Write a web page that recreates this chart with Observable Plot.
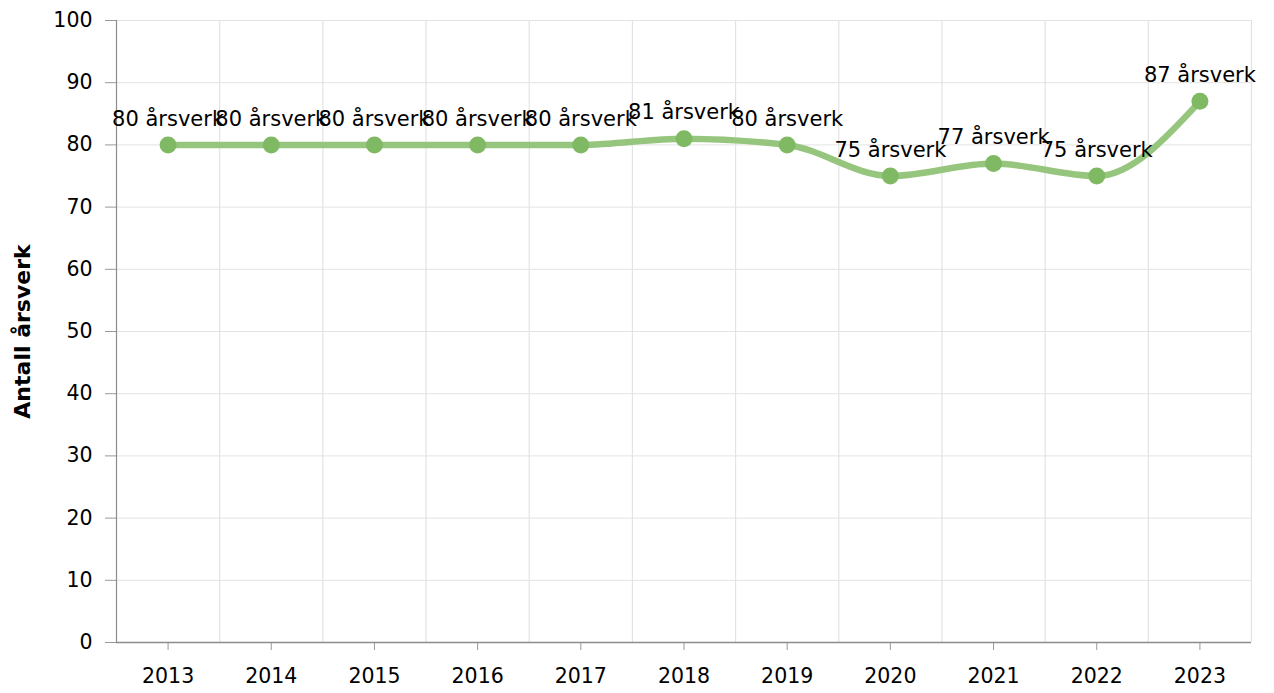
<!DOCTYPE html>
<html>
<head>
<meta charset="utf-8">
<script src="https://cdn.jsdelivr.net/npm/d3@7"></script>
<script src="https://cdn.jsdelivr.net/npm/@observablehq/plot@0.6"></script>
<style>
  html, body { margin: 0; padding: 0; background: #fff; }
</style>
</head>
<body>
<div id="chart"></div>
<script>
const years = [2013, 2014, 2015, 2016, 2017, 2018, 2019, 2020, 2021, 2022, 2023];
const values = [80, 80, 80, 80, 80, 81, 80, 75, 77, 75, 87];
const yTicks = [0, 10, 20, 30, 40, 50, 60, 70, 80, 90, 100];
const unit = "årsverk";
const yTitle = "Antall årsverk";

const data = years.map((year, i) => ({ year, value: values[i], label: `${values[i]} ${unit}` }));
const boundaries = years.map(y => y - 0.5).concat([years[years.length - 1] + 0.5]);
const xDomain = [boundaries[0], boundaries[boundaries.length - 1]];

const chart = Plot.plot({
  width: 1274,
  height: 693,
  marginLeft: 116,
  marginRight: 23,
  marginTop: 20,
  marginBottom: 51,
  style: { fontFamily: "'DejaVu Sans', Verdana, sans-serif", fontSize: "20.5px", color: "#000", background: "#fff" },
  x: { domain: xDomain },
  y: { domain: [0, 100] },
  marks: [
    Plot.gridY(yTicks, { stroke: "#e3e3e3", strokeOpacity: 1 }),
    Plot.ruleX(boundaries.slice(1), { stroke: "#e3e3e3", strokeWidth: 1.2 }),
    Plot.axisX(years, { tickFormat: "d", tickSize: 8, tickPadding: 18, stroke: "#999", label: null, fontSize: 20.5, fill: "#000" }),
    Plot.axisY(yTicks, { tickSize: 11, tickPadding: 13, stroke: "#999", label: null, fontSize: 20.5, fill: "#000" }),
    Plot.ruleY([0], { stroke: "#8c8c8c", strokeWidth: 1.5 }),
    Plot.ruleX([xDomain[0]], { stroke: "#8c8c8c", strokeWidth: 1.2 }),
    Plot.line(data, { x: "year", y: "value", curve: "monotone-x", stroke: "#96c67d", strokeWidth: 6.5 }),
    Plot.dot(data, { x: "year", y: "value", r: 8.5, fill: "#80b963", stroke: "none" }),
    Plot.text(data, { x: "year", y: "value", text: "label", dy: -26, fontSize: 21, fill: "#000" }),
    Plot.text([yTitle], { frameAnchor: "left", textAnchor: "middle", rotate: -90, dx: -94, fontSize: 22, fontWeight: "bold", fill: "#000" })
  ]
});
document.getElementById("chart").appendChild(chart);
</script>
</body>
</html>
